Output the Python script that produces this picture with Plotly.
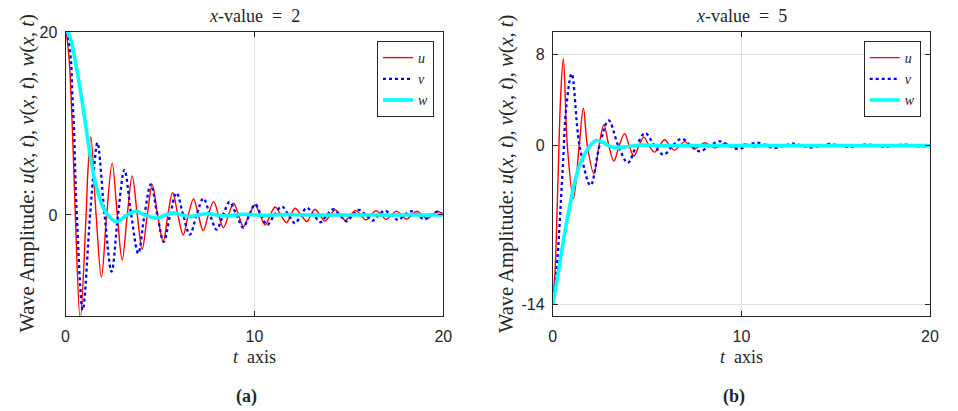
import plotly.graph_objects as go

# ---------------- data ----------------
# Panel (a): x-value = 2
a_u_t = [0, 0.03, 0.2, 0.29, 0.36, 0.45, 0.52, 0.78, 1.09, 1.19, 1.34, 1.62, 1.9, 2.18, 2.47, 2.74, 3.0, 3.27,
         3.53, 3.8, 4.06, 4.33, 4.59, 4.88, 5.17, 5.42, 5.67, 5.95, 6.23, 6.5, 6.78, 7.03, 7.29, 7.56, 7.84,
         8.1, 8.36, 8.63, 8.9, 9.16, 9.42, 9.72, 10.03, 10.3, 10.57, 10.84, 11.1, 11.4, 11.7, 11.93, 12.15,
         12.47, 12.78, 12.99, 13.2, 13.47, 13.74, 14.01, 14.28, 14.55, 14.82, 15.09, 15.36, 15.63, 15.9,
         16.17, 16.44, 16.71, 16.98, 17.25, 17.52, 17.79, 18.06, 18.33, 18.6, 18.87, 19.14, 19.41, 19.68, 20]
a_u_v = [20, 19.9, 16.8, 13.2, 9.5, 4.4, 0, -11.4, 0, 4.9, 8.56, 0, -6.8, 0, 5.66, 0, -4.93, 0,
         4.27, 0, -3.76, 0, 3.28, 0, -2.92, 0, 2.45, 0, -2.19, 0, 1.75, 0, -1.7, 0, 1.46,
         0, -1.4, 0, 1.28, 0, -1.3, 0, 1.12, 0, -1.09, 0, 0.87, 0, -0.84, 0, 0.73,
         0, -0.73, 0, 0.62, 0, -0.68, 0, 0.55, 0, -0.6, 0, 0.5, 0, -0.55,
         0, 0.45, 0, -0.5, 0, 0.42, 0, -0.45, 0, 0.4, 0, -0.4, 0, 0.38, 0.05]

a_v_t = [0, 0.12, 0.29, 0.36, 0.45, 0.52, 0.6, 0.91, 1.3, 1.5, 1.69, 2.07, 2.44, 2.78, 3.12, 3.48, 3.85,
         4.18, 4.52, 4.86, 5.2, 5.54, 5.88, 6.23, 6.58, 6.94, 7.3, 7.65, 8.0, 8.34, 8.69, 9.05, 9.41,
         9.73, 10.04, 10.35, 10.67, 11.06, 11.45, 11.8, 12.15, 12.47, 12.78, 13.14, 13.5, 13.84, 14.17,
         14.52, 14.88, 15.2, 15.52, 15.9, 16.26, 16.58, 16.9, 17.25, 17.6, 17.95, 18.3, 18.65, 19.0,
         19.35, 19.7, 20]
a_v_v = [20, 19.5, 16.8, 13.2, 9.5, 4.4, 0, -10.4, 0, 4.9, 7.9, 0, -6.2, 0, 4.93, 0, -4.2,
         0, 3.35, 0, -2.95, 0, 2.4, 0, -2.15, 0, 1.8, 0, -1.6, 0, 1.42, 0, -1.38,
         0, 1.17, 0, -1.09, 0, 0.93, 0, -0.91, 0, 0.78, 0, -0.8, 0, 0.62,
         0, -0.7, 0, 0.55, 0, -0.62, 0, 0.47, 0, -0.55, 0, 0.4, 0, -0.5,
         0, 0.37, 0]

a_w_t = [0, 0.15, 0.34, 0.52, 0.82, 1.09, 1.3, 1.49, 1.74, 2.0, 2.36, 2.71, 3.2, 3.72, 4.25, 4.85, 5.3,
         5.72, 6.15, 6.6, 7.05, 7.5, 8.0, 8.5, 9.0, 9.5, 10.0, 10.5, 11.5, 13, 16, 20]
a_w_v = [20, 19.9, 18.6, 16.8, 13.2, 9.5, 6.6, 4.4, 2.3, 0.8, -0.3, -0.75, -0.1, 0.4, -0.05, -0.35, 0.0,
         0.2, 0.0, -0.18, 0.0, 0.15, 0, -0.1, 0, 0.08, 0, -0.05, 0.03, 0, 0, 0]

# Panel (b): x-value = 5
b_u_t = [0, 0.12, 0.29, 0.42, 0.56, 0.77, 1.09, 1.4, 1.62, 1.83, 2.18, 2.45, 2.71, 2.97, 3.24, 3.52, 3.81,
         4.05, 4.3, 4.57, 4.83, 5.1, 5.4, 5.66, 5.93, 6.2, 6.46, 6.73, 7.0, 7.27, 7.53, 7.8, 8.07, 8.34,
         8.6, 8.87, 9.14, 9.4, 9.67, 9.94, 10.2, 10.47, 10.74, 11.0, 11.28, 11.55, 11.8, 12.08, 12.35,
         12.62, 12.9, 13.2, 14, 20]
b_u_v = [-14, -11, -2.2, 4.5, 7.65, 0, -4.68, 0, 3.3, 0, -2.48, 0, 1.84, 0, -1.36, 0, 1.05,
         0, -0.92, 0, 0.75, 0, -0.57, 0, 0.52, 0, -0.42, 0, 0.35, 0, -0.3, 0, 0.25, 0,
         -0.2, 0, 0.18, 0, -0.16, 0, 0.15, 0, -0.12, 0, 0.12, 0, -0.1, 0, 0.08,
         0, -0.07, 0, 0, 0]

b_v_t = [0, 0.2, 0.52, 0.72, 1.0, 1.42, 2.0, 2.48, 2.96, 3.47, 3.98, 4.44, 4.9, 5.39, 5.88, 6.35, 6.83,
         7.32, 7.8, 8.33, 8.86, 9.35, 9.83, 10.3, 10.8, 11.3, 11.78, 12.27, 12.75, 13.22, 13.7, 14.2,
         14.7, 15.2, 15.68, 16.17, 16.65, 17.12, 17.6, 18.1, 18.6, 19.08, 19.55, 20]
b_v_v = [-14, -11, -2.2, 3.5, 6.33, 0, -3.5, 0, 2.22, 0, -1.51, 0, 1.1, 0, -0.8, 0, 0.6,
         0, -0.5, 0, 0.38, 0, -0.32, 0, 0.26, 0, -0.22, 0, 0.17, 0, -0.17, 0,
         0.14, 0, -0.12, 0, 0.1, 0, -0.1, 0, 0.08, 0, -0.07, 0]

b_w_t = [0, 0.3, 0.6, 0.9, 1.15, 1.4, 1.7, 2.0, 2.3, 2.65, 3.0, 3.4, 4.0, 4.7, 5.5, 7, 10, 15, 20]
b_w_v = [-14, -11.1, -8.0, -5.3, -3.3, -1.8, -0.75, 0.05, 0.45, 0.3, -0.05, -0.2, -0.08, 0.05, 0, 0, 0, 0, 0]

x_ticks = [0, 10, 20]
a_y_ticks = [0, 20]
a_y_labels = ["0", "20"]
b_y_ticks = [-14, 0, 8]
b_y_labels = ["-14", "0", "8"]

# ---------------- figure ----------------
W, H = 958, 411
RED, BLUE, CYAN = "#ff0000", "#0000ff", "#00ffff"
AX = "#262626"
GRID = "#e0e0e0"
SERIF = "Liberation Serif"
SANS = "Liberation Sans"


def px(x):
    return x / W


def py(y):
    return 1 - y / H


fig = go.Figure()

series = [
    ("x", "y", "legend", a_u_t, a_u_v, a_v_t, a_v_v, a_w_t, a_w_v),
    ("x2", "y2", "legend2", b_u_t, b_u_v, b_v_t, b_v_v, b_w_t, b_w_v),
]
for xa, ya, lg, ut, uv, vt, vv, wt, wv in series:
    fig.add_trace(go.Scatter(x=ut, y=uv, mode="lines", name="<i>u</i>", xaxis=xa, yaxis=ya, legend=lg,
                             line=dict(color=RED, width=1.4, shape="spline", smoothing=1.0)))
    fig.add_trace(go.Scatter(x=vt, y=vv, mode="lines", name="<i>v</i>", xaxis=xa, yaxis=ya, legend=lg,
                             line=dict(color=BLUE, width=2.3, dash="dot", shape="spline", smoothing=1.0)))
    fig.add_trace(go.Scatter(x=wt, y=wv, mode="lines", name="<i>w</i>", xaxis=xa, yaxis=ya, legend=lg,
                             line=dict(color=CYAN, width=3.6, shape="spline", smoothing=1.0)))

left_x = [px(65.5), px(443.3)]
right_x = [px(552.8), px(930)]
plot_y = [py(316), py(32)]

common_x = dict(range=[0, 20], tickvals=x_ticks, ticks="inside", ticklen=5, tickcolor=AX,
                showline=True, linecolor=AX, linewidth=1, mirror="ticks", automargin=False,
                showgrid=True, gridcolor=GRID, gridwidth=1, zeroline=False,
                tickfont=dict(family=SANS, size=16, color=AX), ticklabelstandoff=6)
common_y = dict(ticks="inside", ticklen=5, tickcolor=AX, automargin=False,
                showline=True, linecolor=AX, linewidth=1, mirror="ticks",
                showgrid=True, gridcolor=GRID, gridwidth=1, zeroline=False,
                tickfont=dict(family=SANS, size=16, color=AX), ticklabelstandoff=4)

legend_common = dict(bgcolor="white", bordercolor=AX, borderwidth=1,
                     font=dict(family=SERIF, size=14, color=AX),
                     xanchor="right", yanchor="top", tracegroupgap=0, itemwidth=30)

fig.update_layout(
    width=W, height=H, autosize=False,
    margin=dict(l=0, r=0, t=0, b=0, pad=0, autoexpand=False),
    paper_bgcolor="white", plot_bgcolor="white",
    showlegend=True,
    xaxis=dict(domain=left_x, anchor="y", **common_x),
    yaxis=dict(domain=plot_y, anchor="x", range=[-11.05, 20], tickvals=a_y_ticks, ticktext=a_y_labels, **common_y),
    xaxis2=dict(domain=right_x, anchor="y2", **common_x),
    yaxis2=dict(domain=plot_y, anchor="x2", range=[-15, 10], tickvals=b_y_ticks, ticktext=b_y_labels, **common_y),
    legend=dict(x=px(434), y=py(41), **legend_common),
    legend2=dict(x=px(920.7), y=py(41), **legend_common),
)

ylab = ("Wave Amplitude: <i>u</i>(<i>x</i>, <i>t</i>), <i>v</i>(<i>x</i>, <i>t</i>), "
        "<i>w</i>(<i>x</i>, <i>t</i>)")
annos = [
    (dict(text="<i>x</i>-value&nbsp;&nbsp;=&nbsp;&nbsp;2", x=px(254.4), y=py(16)), 18),
    (dict(text="<i>x</i>-value&nbsp;&nbsp;=&nbsp;&nbsp;5", x=px(741.4), y=py(16)), 18),
    (dict(text="<i>t</i>&nbsp;&nbsp;axis", x=px(254.4), y=py(357)), 18),
    (dict(text="<i>t</i>&nbsp;&nbsp;axis", x=px(741.4), y=py(357)), 18),
    (dict(text=ylab, x=px(27.5), y=py(174), textangle=-90), 20.5),
    (dict(text=ylab, x=px(507), y=py(174), textangle=-90), 20.5),
    (dict(text="<b>(a)</b>", x=px(246), y=py(396)), 18),
    (dict(text="<b>(b)</b>", x=px(733.5), y=py(396)), 18),
]
for a, size in annos:
    fig.add_annotation(xref="paper", yref="paper", showarrow=False, xanchor="center", yanchor="middle",
                       font=dict(family=SERIF, size=size, color=AX), **a)

fig.write_html("out.html", config={"displayModeBar": False})

# remove the default page margin so the figure sits at the window's top-left corner
with open("out.html", "r", encoding="utf-8") as f:
    html = f.read()
html = html.replace("<head>", "<head><style>html,body{margin:0;padding:0;overflow:hidden;}</style>", 1)
with open("out.html", "w", encoding="utf-8") as f:
    f.write(html)
